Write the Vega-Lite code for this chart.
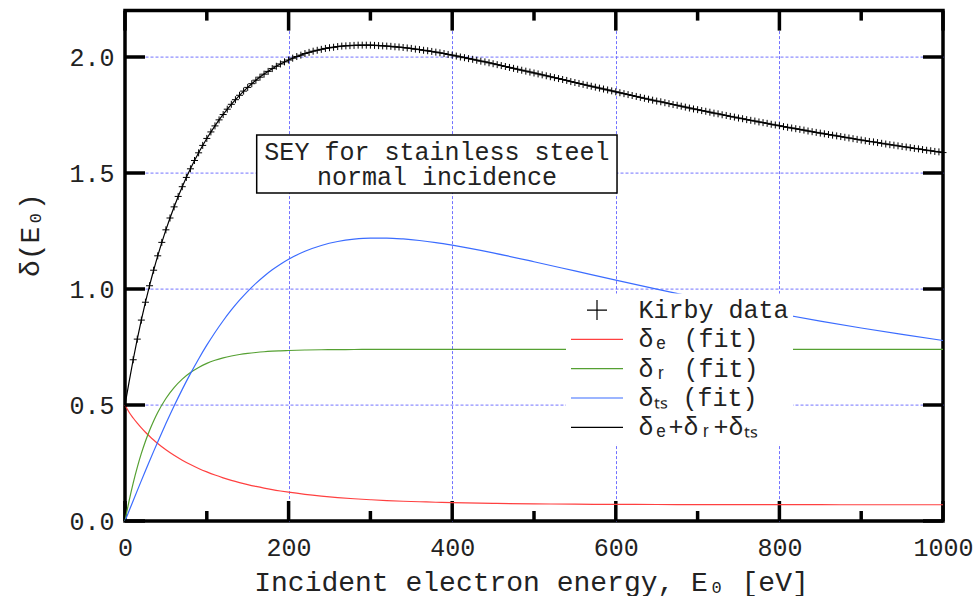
{
  "$schema": "https://vega.github.io/schema/vega-lite/v6.json",
  "width": 818,
  "height": 510.4,
  "autosize": {"type": "none"},
  "padding": {"left": 125, "top": 10.6, "right": 30, "bottom": 75},
  "background": "white",
  "config": {
    "font": "Liberation Mono",
    "view": {"stroke": "black", "strokeWidth": 3.5},
    "axis": {
      "labelFont": "Liberation Mono",
      "titleFont": "Liberation Mono",
      "labelFontSize": 25,
      "titleFontSize": 28,
      "labelColor": "#222222",
      "titleColor": "#222222",
      "titleFontWeight": "normal",
      "domain": false,
      "grid": false,
      "labelOverlap": false,
      "labelFlush": false,
      "labelBound": false
    }
  },
  "datasets": {
    "xmajor": [{"t": 0}, {"t": 200}, {"t": 400}, {"t": 600}, {"t": 800}, {"t": 1000}],
    "xminor": [{"t": 100}, {"t": 300}, {"t": 500}, {"t": 700}, {"t": 900}],
    "ymajor": [{"t": 0}, {"t": 0.5}, {"t": 1.0}, {"t": 1.5}, {"t": 2.0}],
    "fit": [
      {"E": 0, "de": 0.5, "dr": 0, "dts": 0, "sum": 0.5},
      {"E": 5, "de": 0.4689, "dr": 0.0870, "dts": 0.0439, "sum": 0.5998},
      {"E": 10, "de": 0.4439, "dr": 0.1637, "dts": 0.0876, "sum": 0.6951},
      {"E": 15, "de": 0.4215, "dr": 0.2314, "dts": 0.1310, "sum": 0.7839},
      {"E": 20, "de": 0.4012, "dr": 0.2912, "dts": 0.1740, "sum": 0.8664},
      {"E": 25, "de": 0.3825, "dr": 0.3439, "dts": 0.2166, "sum": 0.9431},
      {"E": 30, "de": 0.3653, "dr": 0.3905, "dts": 0.2587, "sum": 1.0144},
      {"E": 35, "de": 0.3492, "dr": 0.4315, "dts": 0.3001, "sum": 1.0808},
      {"E": 40, "de": 0.3342, "dr": 0.4678, "dts": 0.3408, "sum": 1.1428},
      {"E": 50, "de": 0.3071, "dr": 0.5280, "dts": 0.4199, "sum": 1.2550},
      {"E": 60, "de": 0.2832, "dr": 0.5749, "dts": 0.4955, "sum": 1.3536},
      {"E": 70, "de": 0.2621, "dr": 0.6114, "dts": 0.5673, "sum": 1.4408},
      {"E": 80, "de": 0.2433, "dr": 0.6399, "dts": 0.6351, "sum": 1.5182},
      {"E": 90, "de": 0.2265, "dr": 0.6620, "dts": 0.6986, "sum": 1.5871},
      {"E": 100, "de": 0.2116, "dr": 0.6793, "dts": 0.7578, "sum": 1.6486},
      {"E": 110, "de": 0.1981, "dr": 0.6927, "dts": 0.8126, "sum": 1.7035},
      {"E": 120, "de": 0.1861, "dr": 0.7032, "dts": 0.8632, "sum": 1.7524},
      {"E": 130, "de": 0.1753, "dr": 0.7113, "dts": 0.9095, "sum": 1.7961},
      {"E": 140, "de": 0.1656, "dr": 0.7177, "dts": 0.9517, "sum": 1.8349},
      {"E": 150, "de": 0.1568, "dr": 0.7226, "dts": 0.9899, "sum": 1.8693},
      {"E": 160, "de": 0.1489, "dr": 0.7264, "dts": 1.0244, "sum": 1.8997},
      {"E": 170, "de": 0.1417, "dr": 0.7295, "dts": 1.0552, "sum": 1.9264},
      {"E": 180, "de": 0.1352, "dr": 0.7318, "dts": 1.0827, "sum": 1.9497},
      {"E": 190, "de": 0.1294, "dr": 0.7336, "dts": 1.1070, "sum": 1.9699},
      {"E": 200, "de": 0.1241, "dr": 0.7350, "dts": 1.1283, "sum": 1.9874},
      {"E": 220, "de": 0.1149, "dr": 0.7370, "dts": 1.1627, "sum": 2.0146},
      {"E": 240, "de": 0.1074, "dr": 0.7382, "dts": 1.1877, "sum": 2.0333},
      {"E": 260, "de": 0.1011, "dr": 0.7389, "dts": 1.2047, "sum": 2.0447},
      {"E": 280, "de": 0.0960, "dr": 0.7393, "dts": 1.2149, "sum": 2.0502},
      {"E": 300, "de": 0.0917, "dr": 0.7396, "dts": 1.2195, "sum": 2.0508},
      {"E": 320, "de": 0.0880, "dr": 0.7397, "dts": 1.2195, "sum": 2.0472},
      {"E": 340, "de": 0.0851, "dr": 0.7398, "dts": 1.2158, "sum": 2.0407},
      {"E": 360, "de": 0.0829, "dr": 0.7399, "dts": 1.2091, "sum": 2.0319},
      {"E": 380, "de": 0.0808, "dr": 0.7400, "dts": 1.2000, "sum": 2.0208},
      {"E": 400, "de": 0.0790, "dr": 0.7400, "dts": 1.1889, "sum": 2.0079},
      {"E": 450, "de": 0.0758, "dr": 0.7400, "dts": 1.1556, "sum": 1.9714},
      {"E": 500, "de": 0.0738, "dr": 0.7400, "dts": 1.1176, "sum": 1.9314},
      {"E": 550, "de": 0.0725, "dr": 0.7400, "dts": 1.0779, "sum": 1.8904},
      {"E": 600, "de": 0.0716, "dr": 0.7400, "dts": 1.0381, "sum": 1.8497},
      {"E": 650, "de": 0.0711, "dr": 0.7400, "dts": 0.9993, "sum": 1.8104},
      {"E": 700, "de": 0.0707, "dr": 0.7400, "dts": 0.9621, "sum": 1.7728},
      {"E": 750, "de": 0.0705, "dr": 0.7400, "dts": 0.9267, "sum": 1.7372},
      {"E": 800, "de": 0.0703, "dr": 0.7400, "dts": 0.8932, "sum": 1.7035},
      {"E": 850, "de": 0.0702, "dr": 0.7400, "dts": 0.8617, "sum": 1.6719},
      {"E": 900, "de": 0.0701, "dr": 0.7400, "dts": 0.8320, "sum": 1.6421},
      {"E": 950, "de": 0.0701, "dr": 0.7400, "dts": 0.8041, "sum": 1.6142},
      {"E": 1000, "de": 0.0701, "dr": 0.7400, "dts": 0.7779, "sum": 1.5880}
    ],
    "kirby": [
      {"E": 10, "y": 0.695}, {"E": 15, "y": 0.784}, {"E": 20, "y": 0.866}, {"E": 25, "y": 0.943},
      {"E": 30, "y": 1.014}, {"E": 35, "y": 1.081}, {"E": 40, "y": 1.143}, {"E": 45, "y": 1.201},
      {"E": 50, "y": 1.255}, {"E": 55, "y": 1.306}, {"E": 60, "y": 1.354}, {"E": 65, "y": 1.399},
      {"E": 70, "y": 1.441}, {"E": 75, "y": 1.481}, {"E": 80, "y": 1.518}, {"E": 85, "y": 1.554},
      {"E": 90, "y": 1.587}, {"E": 95, "y": 1.619}, {"E": 100, "y": 1.649}, {"E": 105, "y": 1.677},
      {"E": 110, "y": 1.703}, {"E": 115, "y": 1.729}, {"E": 120, "y": 1.752}, {"E": 125, "y": 1.775},
      {"E": 130, "y": 1.796}, {"E": 135, "y": 1.816}, {"E": 140, "y": 1.835}, {"E": 145, "y": 1.853},
      {"E": 150, "y": 1.869}, {"E": 155, "y": 1.885}, {"E": 160, "y": 1.900}, {"E": 165, "y": 1.913},
      {"E": 170, "y": 1.926}, {"E": 175, "y": 1.938}, {"E": 180, "y": 1.950}, {"E": 185, "y": 1.960},
      {"E": 190, "y": 1.970}, {"E": 195, "y": 1.979}, {"E": 200, "y": 1.987}, {"E": 205, "y": 1.995},
      {"E": 210, "y": 2.002}, {"E": 215, "y": 2.008}, {"E": 220, "y": 2.015}, {"E": 225, "y": 2.020},
      {"E": 230, "y": 2.025}, {"E": 235, "y": 2.029}, {"E": 240, "y": 2.033}, {"E": 245, "y": 2.037},
      {"E": 250, "y": 2.040}, {"E": 255, "y": 2.042}, {"E": 260, "y": 2.045}, {"E": 265, "y": 2.047},
      {"E": 270, "y": 2.048}, {"E": 275, "y": 2.049}, {"E": 280, "y": 2.050}, {"E": 285, "y": 2.051},
      {"E": 290, "y": 2.051}, {"E": 295, "y": 2.051}, {"E": 300, "y": 2.051}, {"E": 305, "y": 2.050},
      {"E": 310, "y": 2.049}, {"E": 315, "y": 2.048}, {"E": 320, "y": 2.047}, {"E": 325, "y": 2.046},
      {"E": 330, "y": 2.044}, {"E": 335, "y": 2.043}, {"E": 340, "y": 2.041}, {"E": 345, "y": 2.039},
      {"E": 350, "y": 2.037}, {"E": 355, "y": 2.034}, {"E": 360, "y": 2.032}, {"E": 365, "y": 2.029},
      {"E": 370, "y": 2.027}, {"E": 375, "y": 2.024}, {"E": 380, "y": 2.021}, {"E": 385, "y": 2.018},
      {"E": 390, "y": 2.015}, {"E": 395, "y": 2.011}, {"E": 400, "y": 2.008}, {"E": 405, "y": 2.004},
      {"E": 410, "y": 2.000}, {"E": 415, "y": 1.997}, {"E": 420, "y": 1.993}, {"E": 425, "y": 1.990},
      {"E": 430, "y": 1.986}, {"E": 435, "y": 1.982}, {"E": 440, "y": 1.979}, {"E": 445, "y": 1.975},
      {"E": 450, "y": 1.971}, {"E": 455, "y": 1.967}, {"E": 460, "y": 1.963}, {"E": 465, "y": 1.959},
      {"E": 470, "y": 1.955}, {"E": 475, "y": 1.951}, {"E": 480, "y": 1.947}, {"E": 485, "y": 1.943},
      {"E": 490, "y": 1.939}, {"E": 495, "y": 1.935}, {"E": 500, "y": 1.931}, {"E": 505, "y": 1.927},
      {"E": 510, "y": 1.923}, {"E": 515, "y": 1.919}, {"E": 520, "y": 1.915}, {"E": 525, "y": 1.911},
      {"E": 530, "y": 1.907}, {"E": 535, "y": 1.903}, {"E": 540, "y": 1.899}, {"E": 545, "y": 1.894},
      {"E": 550, "y": 1.890}, {"E": 555, "y": 1.886}, {"E": 560, "y": 1.882}, {"E": 565, "y": 1.878},
      {"E": 570, "y": 1.874}, {"E": 575, "y": 1.870}, {"E": 580, "y": 1.866}, {"E": 585, "y": 1.862},
      {"E": 590, "y": 1.858}, {"E": 595, "y": 1.854}, {"E": 600, "y": 1.850}, {"E": 605, "y": 1.846},
      {"E": 610, "y": 1.842}, {"E": 615, "y": 1.838}, {"E": 620, "y": 1.834}, {"E": 625, "y": 1.830},
      {"E": 630, "y": 1.826}, {"E": 635, "y": 1.822}, {"E": 640, "y": 1.818}, {"E": 645, "y": 1.814},
      {"E": 650, "y": 1.810}, {"E": 655, "y": 1.807}, {"E": 660, "y": 1.803}, {"E": 665, "y": 1.799},
      {"E": 670, "y": 1.795}, {"E": 675, "y": 1.792}, {"E": 680, "y": 1.788}, {"E": 685, "y": 1.784},
      {"E": 690, "y": 1.780}, {"E": 695, "y": 1.776}, {"E": 700, "y": 1.773}, {"E": 705, "y": 1.769},
      {"E": 710, "y": 1.766}, {"E": 715, "y": 1.762}, {"E": 720, "y": 1.758}, {"E": 725, "y": 1.755},
      {"E": 730, "y": 1.751}, {"E": 735, "y": 1.748}, {"E": 740, "y": 1.744}, {"E": 745, "y": 1.741},
      {"E": 750, "y": 1.737}, {"E": 755, "y": 1.734}, {"E": 760, "y": 1.730}, {"E": 765, "y": 1.727},
      {"E": 770, "y": 1.724}, {"E": 775, "y": 1.720}, {"E": 780, "y": 1.717}, {"E": 785, "y": 1.714},
      {"E": 790, "y": 1.710}, {"E": 795, "y": 1.707}, {"E": 800, "y": 1.704}, {"E": 805, "y": 1.700},
      {"E": 810, "y": 1.697}, {"E": 815, "y": 1.694}, {"E": 820, "y": 1.691}, {"E": 825, "y": 1.688},
      {"E": 830, "y": 1.685}, {"E": 835, "y": 1.681}, {"E": 840, "y": 1.678}, {"E": 845, "y": 1.675},
      {"E": 850, "y": 1.672}, {"E": 855, "y": 1.669}, {"E": 860, "y": 1.666}, {"E": 865, "y": 1.663},
      {"E": 870, "y": 1.660}, {"E": 875, "y": 1.657}, {"E": 880, "y": 1.654}, {"E": 885, "y": 1.651},
      {"E": 890, "y": 1.648}, {"E": 895, "y": 1.645}, {"E": 900, "y": 1.642}, {"E": 905, "y": 1.639},
      {"E": 910, "y": 1.636}, {"E": 915, "y": 1.634}, {"E": 920, "y": 1.631}, {"E": 925, "y": 1.628},
      {"E": 930, "y": 1.625}, {"E": 935, "y": 1.622}, {"E": 940, "y": 1.620}, {"E": 945, "y": 1.617},
      {"E": 950, "y": 1.614}, {"E": 955, "y": 1.612}, {"E": 960, "y": 1.609}, {"E": 965, "y": 1.606},
      {"E": 970, "y": 1.604}, {"E": 975, "y": 1.601}, {"E": 980, "y": 1.598}, {"E": 985, "y": 1.596},
      {"E": 990, "y": 1.593}, {"E": 995, "y": 1.591}, {"E": 1000, "y": 1.588}
    ]
  },
  "layer": [
    {
      "data": {"name": "xmajor"},
      "mark": {"type": "point", "shape": "M0,0V-1", "size": 1600, "filled": false, "color": "black", "strokeWidth": 3.5, "opacity": 1},
      "encoding": {
        "x": {"field": "t", "type": "quantitative", "scale": {"domain": [0, 1000], "nice": false},
          "axis": {"orient": "bottom", "values": [200, 400, 600, 800], "grid": true, "gridColor": "#7272ff", "gridDash": [3, 2], "gridWidth": 1, "gridOpacity": 1, "ticks": false, "labels": false, "title": null}},
        "y": {"datum": 0, "type": "quantitative", "scale": {"domain": [0, 2.2], "nice": false},
          "axis": {"orient": "left", "values": [0.5, 1, 1.5, 2], "grid": true, "gridColor": "#7272ff", "gridDash": [3, 2], "gridWidth": 1, "gridOpacity": 1, "ticks": false, "labels": false, "title": null}}
      }
    },
    {
      "data": {"name": "fit"},
      "transform": [{"fold": ["de", "dr", "dts", "sum"], "as": ["s", "v"]}],
      "mark": {"type": "line", "strokeWidth": 1.2, "interpolate": "monotone"},
      "encoding": {
        "x": {"field": "E", "type": "quantitative", "scale": {"domain": [0, 1000], "nice": false},
          "axis": {"orient": "bottom", "values": [0, 200, 400, 600, 800, 1000], "format": "d", "ticks": false, "grid": false, "labelPadding": 14, "title": "Incident electron energy, E₀ [eV]", "titleX": 406, "titleY": 61, "titleBaseline": "middle", "titleAlign": "center"}},
        "y": {"field": "v", "type": "quantitative", "scale": {"domain": [0, 2.2], "nice": false},
          "axis": {"orient": "left", "values": [0, 0.5, 1, 1.5, 2], "format": ".1f", "ticks": false, "grid": false, "labelPadding": 11, "title": "δ(E₀)", "titleAngle": -90, "titleX": -95, "titleY": 224, "titleBaseline": "middle", "titleAlign": "center"}},
        "color": {"field": "s", "type": "nominal",
          "scale": {"domain": ["Kirby", "de", "dr", "dts", "sum"], "range": ["black", "#ff4040", "#55a032", "#3b6cff", "black"]},
          "legend": {
            "orient": "none", "legendX": 441, "legendY": 283, "title": null,
            "fillColor": "white", "padding": 4, "symbolSize": 400, "symbolOffset": 14.5,
            "labelOffset": 29, "rowPadding": 3.3, "labelFont": "Liberation Mono", "labelFontSize": 25,
            "labelColor": "#222222", "symbolStrokeWidth": 1.2, "labelLimit": 400,
            "labelExpr": "datum.value == 'Kirby' ? 'Kirby data' : datum.value == 'de' ? 'δₑ (fit)' : datum.value == 'dr' ? 'δᵣ (fit)' : datum.value == 'dts' ? 'δₜₛ (fit)' : 'δₑ+δᵣ+δₜₛ'",
            "encode": {"symbols": {"update": {
              "shape": {"signal": "datum.value == 'Kirby' ? 'M-1,0H1M0,-1V1' : 'M-2.6,0H2.6'"},
              "fill": {"value": "transparent"}
            }}}
          }}
      }
    },
    {
      "data": {"name": "kirby"},
      "mark": {"type": "point", "shape": "M-1,0H1M0,-1V1", "filled": false, "size": 49, "strokeWidth": 1, "opacity": 1},
      "encoding": {
        "x": {"field": "E", "type": "quantitative", "scale": {"domain": [0, 1000], "nice": false}, "axis": null},
        "y": {"field": "y", "type": "quantitative", "scale": {"domain": [0, 2.2], "nice": false}, "axis": null},
        "color": {"datum": "Kirby", "type": "nominal"}
      }
    },
    {
      "data": {"values": [{}]},
      "mark": {"type": "rect", "fill": "white", "stroke": "black", "strokeWidth": 1.5},
      "encoding": {
        "x": {"datum": 161, "type": "quantitative", "axis": null},
        "x2": {"datum": 601.5},
        "y": {"datum": 1.664, "type": "quantitative", "axis": null},
        "y2": {"datum": 1.414}
      }
    },
    {
      "data": {"values": [{}]},
      "mark": {"type": "text", "text": ["SEY for stainless steel", "normal incidence"], "font": "Liberation Mono", "fontSize": 25, "lineHeight": 25, "align": "center", "baseline": "middle", "color": "#222222"},
      "encoding": {
        "x": {"datum": 381.3, "type": "quantitative", "axis": null},
        "y": {"datum": 1.591, "type": "quantitative", "axis": null}
      }
    },
    {
      "data": {"name": "xmajor"},
      "mark": {"type": "point", "shape": "M0,0V1", "size": 1600, "filled": false, "color": "black", "strokeWidth": 3.5, "opacity": 1},
      "encoding": {
        "x": {"field": "t", "type": "quantitative", "axis": null},
        "y": {"datum": 2.2, "type": "quantitative", "axis": null}
      }
    },
    {
      "data": {"name": "xminor"},
      "mark": {"type": "point", "shape": "M0,0V-1", "size": 400, "filled": false, "color": "black", "strokeWidth": 3.5, "opacity": 1},
      "encoding": {
        "x": {"field": "t", "type": "quantitative", "axis": null},
        "y": {"datum": 0, "type": "quantitative", "axis": null}
      }
    },
    {
      "data": {"name": "xminor"},
      "mark": {"type": "point", "shape": "M0,0V1", "size": 400, "filled": false, "color": "black", "strokeWidth": 3.5, "opacity": 1},
      "encoding": {
        "x": {"field": "t", "type": "quantitative", "axis": null},
        "y": {"datum": 2.2, "type": "quantitative", "axis": null}
      }
    },
    {
      "data": {"name": "ymajor"},
      "mark": {"type": "point", "shape": "M0,0H1", "size": 1600, "filled": false, "color": "black", "strokeWidth": 3.5, "opacity": 1},
      "encoding": {
        "y": {"field": "t", "type": "quantitative", "axis": null},
        "x": {"datum": 0, "type": "quantitative", "axis": null}
      }
    },
    {
      "data": {"name": "ymajor"},
      "mark": {"type": "point", "shape": "M0,0H-1", "size": 1600, "filled": false, "color": "black", "strokeWidth": 3.5, "opacity": 1},
      "encoding": {
        "y": {"field": "t", "type": "quantitative", "axis": null},
        "x": {"datum": 1000, "type": "quantitative", "axis": null}
      }
    }
  ],
  "resolve": {"axis": {"x": "independent", "y": "independent"}}
}
